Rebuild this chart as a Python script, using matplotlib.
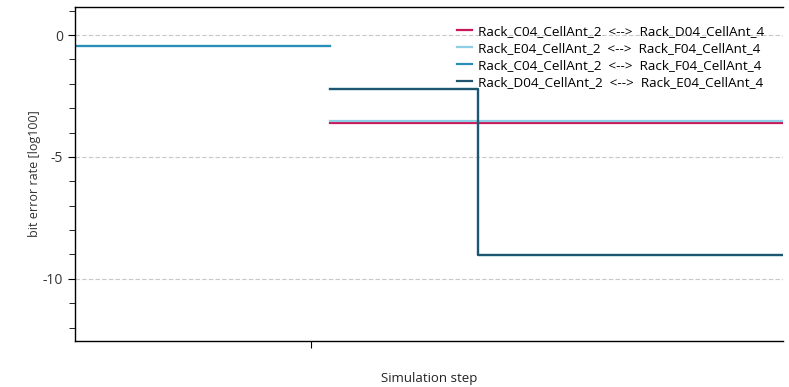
import numpy as np
import matplotlib
matplotlib.use("Agg")
import matplotlib.pyplot as plt
from matplotlib.ticker import MultipleLocator

plt.rcParams['font.family'] = ['Open Sans', 'DejaVu Sans']
plt.rcParams['axes.unicode_minus'] = False

# step boundaries on the simulation-step axis
bounds = [0.0, 1.08, 1.71, 3.0]

names = [
    "Rack_C04_CellAnt_2  <-->  Rack_D04_CellAnt_4",
    "Rack_E04_CellAnt_2  <-->  Rack_F04_CellAnt_4",
    "Rack_C04_CellAnt_2  <-->  Rack_F04_CellAnt_4",
    "Rack_D04_CellAnt_2  <-->  Rack_E04_CellAnt_4",
]
# log10 bit error rate per interval (nan = no value)
ber_c04_d04 = [np.nan, -3.6, -3.6]
ber_e04_f04 = [-0.47, -3.52, -3.52]
ber_c04_f04 = [-0.47, -2.23, -9.02]
ber_d04_e04 = [np.nan, -2.23, -9.02]
colors = ["#c8185a", "#8fcfe6", "#2a8db8", "#1e5670"]

fig = plt.figure(figsize=(7.89, 3.87), dpi=100)
ax = fig.add_axes([0.095, 0.119, 0.897, 0.863])

for name, vals, c in zip(names, [ber_c04_d04, ber_e04_f04, ber_c04_f04, ber_d04_e04], colors):
    # first block is not joined to the later ones
    if not np.isnan(vals[0]):
        ax.plot(bounds[0:2], [vals[0], vals[0]], color=c, lw=1.6)
    ax.step(bounds[1:], [vals[1], vals[2], vals[2]], where='post', color=c, lw=1.6, label=name)

ax.set_xlim(0, 3.0)
ax.set_ylim(-12.55, 1.15)
ax.set_xticks([1.0])
ax.set_xticklabels([""])
ax.yaxis.set_major_locator(MultipleLocator(5))
ax.yaxis.set_minor_locator(MultipleLocator(1))
ax.tick_params(axis='y', which='major', length=5, labelsize=10, labelcolor='#333333')
ax.tick_params(axis='y', which='minor', length=4)
ax.tick_params(axis='x', length=5)
ax.grid(axis='y', which='major', linestyle=(0, (4, 2)), color='#c8c8c8', lw=0.8)

ax.spines['right'].set_visible(False)
for s in ['left', 'bottom', 'top']:
    ax.spines[s].set_linewidth(1.0)

ax.set_ylabel("bit error rate [log100]", fontsize=9, color='#333333', labelpad=1)
ax.set_xlabel("Simulation step", fontsize=9.5, color='#222222', labelpad=14)

ax.legend(loc='upper right', bbox_to_anchor=(0.982, 0.963), frameon=False, fontsize=9.7,
          handlelength=1.1, handletextpad=0.5, labelspacing=0.3, borderaxespad=0.0)

fig.savefig("out.png", dpi=100)
